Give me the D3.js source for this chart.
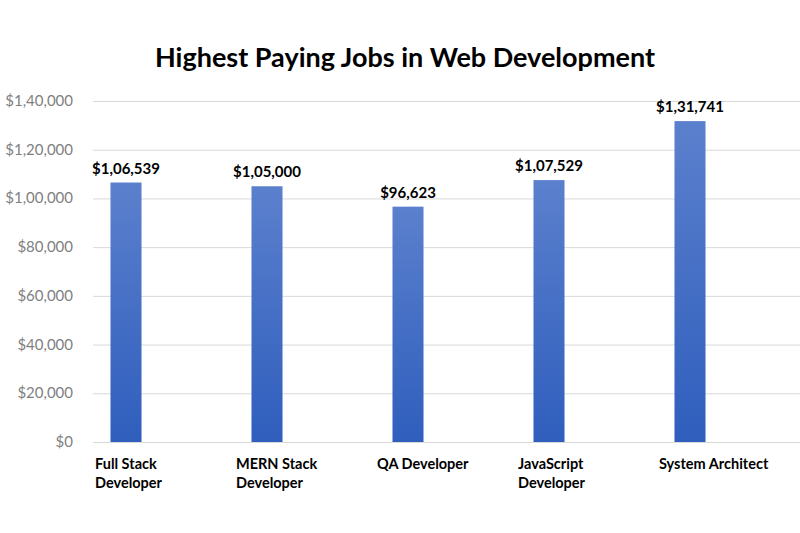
<!DOCTYPE html>
<html>
<head>
<meta charset="utf-8">
<script src="https://cdn.jsdelivr.net/npm/d3@7"></script>
<style>
  body { margin: 0; background: #fff; }
  svg { display: block; font-family: Lato, "Open Sans", sans-serif; }
  .grid line { stroke: #d9d9d9; stroke-width: 1; }
  .ytick { fill: #7f7f7f; font-size: 15px; }
  .val { fill: #000; font-size: 15px; font-weight: bold; }
  .cat { fill: #000; font-size: 14.5px; font-weight: bold; }
</style>
</head>
<body>
<svg width="800" height="533"></svg>
<script>
const categories = ["Full Stack Developer", "MERN Stack Developer", "QA Developer", "JavaScript Developer", "System Architect"];
const catLines = [["Full Stack", "Developer"], ["MERN Stack", "Developer"], ["QA Developer"], ["JavaScript", "Developer"], ["System Architect"]];
const salaries = [106539, 105000, 96623, 107529, 131741];
const yTicks = [0, 20000, 40000, 60000, 80000, 100000, 120000, 140000];

// Indian digit grouping: 1,31,741
function inr(v) {
  let s = String(Math.round(v));
  if (s.length <= 3) return "$" + s;
  let last = s.slice(-3), rest = s.slice(0, -3);
  rest = rest.replace(/\B(?=(\d{2})+(?!\d))/g, ",");
  return "$" + rest + "," + last;
}

const svg = d3.select("svg");

const x = d3.scaleBand()
    .domain(categories)
    .range([55.5, 760.5])
    .paddingInner(0.78)
    .paddingOuter(0.39);

const y = d3.scaleLinear()
    .domain([0, 140000])
    .range([442, 101]);

// gradient for bars
const grad = svg.append("defs").append("linearGradient")
    .attr("id", "barGrad")
    .attr("x1", 0).attr("y1", 0).attr("x2", 0).attr("y2", 1);
grad.append("stop").attr("offset", "0%").attr("stop-color", "#5b80cd");
grad.append("stop").attr("offset", "100%").attr("stop-color", "#2f5ebd");

// title
svg.append("text")
    .attr("x", 405)
    .attr("y", 67)
    .attr("text-anchor", "middle")
    .style("font-size", "27px")
    .style("font-weight", "bold")
    .text("Highest Paying Jobs in Web Development");

// gridlines
svg.append("g")
    .attr("class", "grid")
  .selectAll("line")
  .data(yTicks)
  .enter().append("line")
    .attr("x1", 93)
    .attr("x2", 800)
    .attr("y1", d => y(d) + 0.5)
    .attr("y2", d => y(d) + 0.5);

// y tick labels
svg.append("g")
  .selectAll("text")
  .data(yTicks)
  .enter().append("text")
    .attr("class", "ytick")
    .attr("x", 73)
    .attr("y", d => y(d) + 5)
    .attr("text-anchor", "end")
    .text(d => inr(d));

// bars
svg.append("g")
  .selectAll("rect")
  .data(salaries)
  .enter().append("rect")
    .attr("x", (d, i) => x(categories[i]))
    .attr("y", d => y(d))
    .attr("width", x.bandwidth())
    .attr("height", d => y(0) - y(d))
    .attr("fill", "url(#barGrad)");

// value labels
svg.append("g")
  .selectAll("text")
  .data(salaries)
  .enter().append("text")
    .attr("class", "val")
    .attr("x", (d, i) => x(categories[i]) + x.bandwidth() / 2)
    .attr("y", d => y(d) - 9)
    .attr("text-anchor", "middle")
    .text(d => inr(d));

// category labels
const cat = svg.append("g")
  .selectAll("text")
  .data(catLines)
  .enter().append("text")
    .attr("class", "cat")
    .attr("x", (d, i) => x(categories[i]) + x.bandwidth() / 2 - 31)
    .attr("y", 469);

cat.selectAll("tspan")
  .data(d => d)
  .enter().append("tspan")
    .attr("x", function() { return this.parentNode.getAttribute("x"); })
    .attr("dy", (d, i) => i === 0 ? 0 : 19)
    .text(d => d);
</script>
</body>
</html>
